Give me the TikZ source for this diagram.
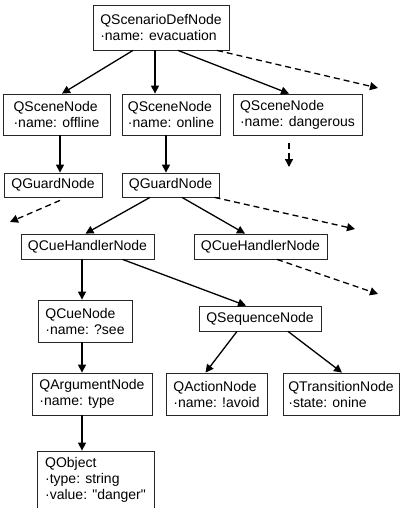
\documentclass[tikz,border=0pt]{standalone}
\usepackage{fontspec}
\setmainfont{Liberation Sans}[Ligatures=TeXOff]
\usetikzlibrary{arrows.meta}
\tikzset{
  qnode/.style={draw=black!85, line width=0.8pt, fill=white, align=left, inner sep=0pt,
    font=\fontsize{14}{16}\selectfont},
  qlink/.style={line width=1.3pt, -{Triangle[length=8pt,width=8pt]}},
  qmore/.style={qlink, dash pattern=on 6pt off 4pt},
}

\begin{document}
\begin{tikzpicture}[x=1pt,y=-1pt]
\useasboundingbox (0,0) rectangle (400,508);
\clip (0,0) rectangle (400,508);
% scenario root and scenes
\node[qnode, minimum width=136pt, minimum height=45pt] (sdef) at (161,27.5) {QScenarioDefNode\\·name: evacuation};
\node[qnode, minimum width=107pt, minimum height=41pt] (scoff) at (56.5,114.5) {QSceneNode\\·name: offline};
\node[qnode, minimum width=98pt, minimum height=41pt] (scon) at (171,114.5) {QSceneNode\\·name: online};
\node[qnode, minimum width=129pt, minimum height=41pt] (scdan) at (297.5,114.5) {QSceneNode\\·name: dangerous};
%
\draw[qlink] ([xshift=-28pt]sdef.south) -- ([xshift=5.5pt]scoff.north);
\draw[qlink] ([xshift=-6pt]sdef.south) -- ([xshift=-16pt]scon.north);
\draw[qlink] ([xshift=17pt]sdef.south) -- ([xshift=-8.5pt]scdan.north);
\coordinate (sdefmore) at (378,88);
\draw[qmore] ([xshift=56pt]sdef.south) -- (sdefmore);
\coordinate (scdanmore) at (289,167);
\draw[qmore] ([xshift=-8.5pt,yshift=-8pt]scdan.south) -- (scdanmore);
% guards
\node[qnode, minimum width=98pt, minimum height=24pt] (grd1) at (53,185) {QGuardNode};
\node[qnode, minimum width=97pt, minimum height=24pt] (grd2) at (170.5,185) {QGuardNode};
\draw[qlink] ([xshift=3.5pt]scoff.south) -- ([xshift=7pt]grd1.north);
\draw[qlink] ([xshift=-5pt]scon.south) -- ([xshift=-4.5pt]grd2.north);
\coordinate (grd1more) at (10,222);
\draw[qmore] ([xshift=7pt,yshift=-3pt]grd1.south) -- (grd1more);
\coordinate (grd2more) at (355,229);
\draw[qmore] ([xshift=44pt]grd2.south) -- (grd2more);
% cue handlers
\node[qnode, minimum width=133pt, minimum height=25pt] (hdl1) at (87.5,246.5) {QCueHandlerNode};
\node[qnode, minimum width=133pt, minimum height=25pt] (hdl2) at (260.5,246.5) {QCueHandlerNode};
\draw[qlink] ([xshift=-20.5pt]grd2.south) -- ([xshift=-2pt]hdl1.north);
\draw[qlink] ([xshift=11.5pt]grd2.south) -- ([xshift=-15.5pt]hdl2.north);
\coordinate (hdl2more) at (378,294);
\draw[qmore] ([xshift=16.5pt]hdl2.south) -- (hdl2more);
% cue and sequence
\node[qnode, minimum width=94pt, minimum height=42pt] (cue) at (85,321) {QCueNode\\·name: ?see};
\node[qnode, minimum width=122pt, minimum height=25pt] (seq) at (260,318.5) {QSequenceNode};
\draw[qlink] ([xshift=-5.5pt]hdl1.south) -- ([xshift=-3pt]cue.north);
\draw[qlink] ([xshift=35pt]hdl1.south) -- ([xshift=-14pt]seq.north);
% leaves
\node[qnode, minimum width=120pt, minimum height=42pt] (arg) at (92,394) {QArgumentNode\\·name: type};
\node[qnode, minimum width=101pt, minimum height=42pt] (act) at (216.5,394) {QActionNode\\·name: !avoid};
\node[qnode, minimum width=116pt, minimum height=42pt] (trans) at (341,394) {QTransitionNode\\·state: onine};
\node[qnode, minimum width=117pt, minimum height=58pt] (obj) at (95.5,480) {QObject\\·type: string\\·value: "danger"};
\draw[qlink] ([xshift=-23pt]seq.south) -- ([xshift=-11pt]act.north);
\draw[qlink] ([xshift=28pt]seq.south) -- ([xshift=1pt]trans.north);
\draw[qlink] ([xshift=-3pt]cue.south) -- ([xshift=-10pt]arg.north);
\draw[qlink] ([xshift=-10pt]arg.south) -- ([xshift=-13.5pt]obj.north);
\end{tikzpicture}
\end{document}
